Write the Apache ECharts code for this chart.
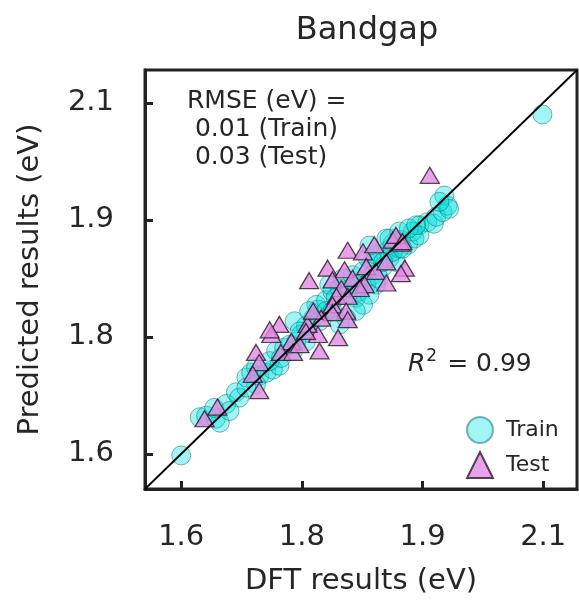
<!DOCTYPE html>
<html lang="en">
<head>
    <meta charset="UTF-8">
    <script type="text/javascript" src="https://cdn.jsdelivr.net/npm/echarts@6/dist/echarts.min.js"></script>
    <style>
        html, body { margin: 0; padding: 0; background: #fff; }
    </style>
</head>
<body>
    <div id="main" style="width: 579px; height: 601px;"></div>
    <script type="text/javascript">
        // axis range and ticks (same for both axes)
        var axisMin = 1.555;
        var axisMax = 2.092;
        var tickValues = [1.6, 1.75, 1.9, 2.05];
        var tickLabels = ['1.6', '1.8', '1.9', '2.1'];

        // training set: DFT value / predicted value
        var trainX = [1.600, 1.623, 1.631, 1.643, 1.648, 1.641, 1.656, 1.668, 1.672, 1.681,
                      1.687, 1.693, 1.697, 1.706, 1.714, 1.722, 1.710, 1.718, 1.728, 1.741,
                      1.743, 1.749, 1.755, 1.764, 1.770, 1.768, 1.780, 1.788, 1.784, 1.797,
                      1.807, 1.817, 1.813, 1.826, 1.832, 1.840, 1.851, 1.857, 1.863, 1.873,
                      1.882, 1.890, 1.896, 1.906, 1.914, 1.917, 1.925, 1.927, 1.931, 1.933,
                      1.921, 2.049, 1.759, 1.747, 1.735, 1.724, 1.772, 1.792, 1.801, 1.821,
                      1.830, 1.838, 1.846, 1.842, 1.859, 1.867, 1.871, 1.888, 1.896, 1.693,
                      1.681, 1.660, 1.739, 1.755, 1.780, 1.788, 1.810, 1.817, 1.855, 1.834,
                      1.859, 1.871, 1.883, 1.892, 1.863, 1.875, 1.851, 1.842, 1.834, 1.826,
                      1.817, 1.805, 1.797];
        var trainY = [1.598, 1.647, 1.649, 1.645, 1.640, 1.659, 1.664, 1.679, 1.672, 1.698,
                      1.704, 1.711, 1.700, 1.704, 1.708, 1.713, 1.719, 1.732, 1.736, 1.770,
                      1.744, 1.753, 1.764, 1.774, 1.785, 1.791, 1.797, 1.808, 1.817, 1.812,
                      1.804, 1.800, 1.829, 1.834, 1.851, 1.846, 1.840, 1.861, 1.870, 1.874,
                      1.868, 1.876, 1.893, 1.897, 1.895, 1.904, 1.910, 1.931, 1.918, 1.914,
                      1.923, 2.035, 1.783, 1.757, 1.740, 1.723, 1.770, 1.800, 1.825, 1.808,
                      1.817, 1.829, 1.825, 1.855, 1.851, 1.846, 1.863, 1.885, 1.880, 1.689,
                      1.685, 1.655, 1.732, 1.744, 1.783, 1.783, 1.812, 1.817, 1.876, 1.867,
                      1.876, 1.885, 1.889, 1.893, 1.859, 1.863, 1.846, 1.817, 1.804, 1.791,
                      1.783, 1.774, 1.766];

        // test set
        var testX = [1.909, 1.807, 1.826, 1.840, 1.863, 1.873, 1.782, 1.803, 1.759, 1.788,
                     1.813, 1.830, 1.842, 1.855, 1.878, 1.873, 1.855, 1.828, 1.822, 1.799,
                     1.793, 1.807, 1.788, 1.805, 1.788, 1.807, 1.795, 1.774, 1.770, 1.757,
                     1.772, 1.722, 1.712, 1.710, 1.737, 1.724, 1.739, 1.693, 1.697, 1.689,
                     1.697, 1.645, 1.629, 1.764, 1.747, 1.755, 1.867, 1.875];
        var testY = [1.957, 1.861, 1.859, 1.868, 1.874, 1.870, 1.838, 1.836, 1.822, 1.823,
                     1.825, 1.840, 1.834, 1.846, 1.838, 1.831, 1.819, 1.817, 1.812, 1.812,
                     1.802, 1.802, 1.791, 1.783, 1.781, 1.772, 1.749, 1.774, 1.753, 1.766,
                     1.732, 1.766, 1.753, 1.759, 1.744, 1.730, 1.730, 1.730, 1.717, 1.702,
                     1.681, 1.660, 1.645, 1.783, 1.740, 1.757, 1.880, 1.872];

        function pairs(xs, ys) {
            var out = [];
            for (var i = 0; i < xs.length; i++) {
                out.push([xs[i], ys[i]]);
            }
            return out;
        }

        var axisColor = '#222';
        var textColor = '#262626';
        var fontFamily = 'DejaVu Sans';

        function makeAxis(isX) {
            return {
                type: 'value',
                min: axisMin,
                max: axisMax,
                name: isX ? 'DFT results (eV)' : 'Predicted results (eV)',
                nameLocation: 'middle',
                nameGap: isX ? 78 : 100,
                nameTextStyle: { fontSize: 29, color: textColor, fontFamily: fontFamily },
                axisLine: { show: true, lineStyle: { color: axisColor, width: 3 } },
                axisTick: {
                    show: true,
                    inside: true,
                    length: 8,
                    lineStyle: { color: axisColor, width: 3 },
                    customValues: tickValues
                },
                axisLabel: {
                    show: true,
                    margin: isX ? 34 : 31,
                    fontSize: 29,
                    color: textColor,
                    fontFamily: fontFamily,
                    customValues: tickValues,
                    formatter: function (v) {
                        var idx = tickValues.indexOf(v);
                        return idx >= 0 ? tickLabels[idx] : '';
                    }
                },
                splitLine: { show: false }
            };
        }

        var myChart = echarts.init(document.getElementById('main'));
        var option = {
            backgroundColor: '#fff',
            animation: false,
            title: {
                text: 'Bandgap',
                left: 362,
                textAlign: 'center',
                top: 10,
                textStyle: { fontSize: 32, fontWeight: 'normal', color: textColor, fontFamily: fontFamily }
            },
            grid: {
                left: 145,
                top: 70,
                width: 432,
                height: 421,
                show: true,
                borderColor: axisColor,
                borderWidth: 3,
                backgroundColor: 'transparent'
            },
            legend: {
                orient: 'vertical',
                left: 466,
                top: 416,
                padding: 0,
                itemWidth: 26,
                itemHeight: 26,
                itemGap: 7,
                textStyle: { fontSize: 22, color: textColor, fontFamily: fontFamily, padding: [0, 0, 0, 8] },
                data: [
                    { name: 'Train', icon: 'circle' },
                    { name: 'Test', icon: 'triangle' }
                ]
            },
            xAxis: makeAxis(true),
            yAxis: makeAxis(false),
            graphic: [
                {
                    type: 'text',
                    left: 187,
                    top: 87,
                    style: {
                        text: 'RMSE (eV) =\n 0.01 (Train)\n 0.03 (Test)',
                        fontSize: 25,
                        lineHeight: 28,
                        fill: textColor,
                        fontFamily: fontFamily
                    }
                },
                {
                    type: 'text',
                    left: 408,
                    top: 348,
                    style: {
                        text: '{i|R}{s|2}{n| = 0.99}',
                        rich: {
                            i: { fontSize: 25, fontStyle: 'italic', fill: textColor, fontFamily: fontFamily, verticalAlign: 'bottom' },
                            s: { fontSize: 17, fill: textColor, fontFamily: fontFamily, verticalAlign: 'top', padding: [0, 2, 12, 1] },
                            n: { fontSize: 25, fill: textColor, fontFamily: fontFamily, verticalAlign: 'bottom' }
                        }
                    }
                }
            ],
            series: [
                {
                    name: 'Train',
                    type: 'scatter',
                    symbol: 'circle',
                    symbolSize: 19,
                    data: pairs(trainX, trainY),
                    itemStyle: {
                        color: 'rgba(0, 225, 225, 0.45)',
                        borderColor: 'rgba(0, 100, 100, 0.6)',
                        borderWidth: 1
                    },
                    z: 2
                },
                {
                    name: 'Test',
                    type: 'scatter',
                    symbol: 'triangle',
                    symbolSize: [19, 16],
                    data: pairs(testX, testY),
                    itemStyle: {
                        color: '#e38ae3',
                        borderColor: '#2a1a2a',
                        borderWidth: 1.3
                    },
                    z: 3
                },
                {
                    name: 'diag',
                    type: 'line',
                    data: [[axisMin, axisMin], [axisMax, axisMax]],
                    symbol: 'none',
                    lineStyle: { color: '#000', width: 1.8 },
                    silent: true,
                    z: 4
                }
            ]
        };
        myChart.setOption(option);
    </script>
</body>
</html>
